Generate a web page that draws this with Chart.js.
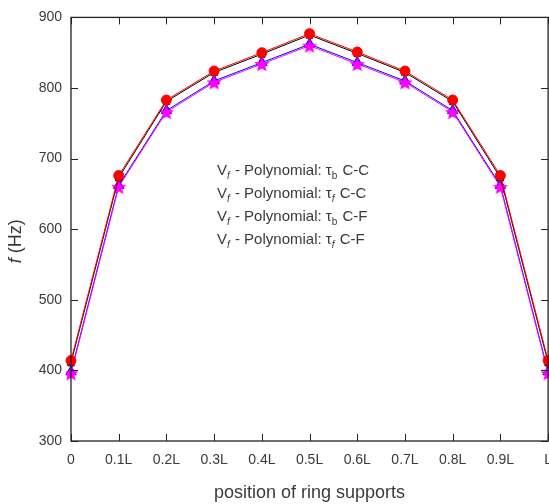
<!DOCTYPE html>
<html>
<head>
<meta charset="utf-8">
<script src="https://cdn.jsdelivr.net/npm/chart.js@4"></script>
<style>
  html, body { margin: 0; padding: 0; overflow: hidden; background: #fff; }
  canvas { display: block; }
</style>
</head>
<body>
<canvas id="freqChart" width="563" height="504"></canvas>
<script>
// positions along the shell
const positions = ['0', '0.1L', '0.2L', '0.3L', '0.4L', '0.5L', '0.6L', '0.7L', '0.8L', '0.9L', 'L'];

// natural frequency f (Hz) for each boundary / thickness case
const tauB_CC = [414, 676, 783, 824, 850, 877, 851, 824, 783, 676, 414];
const tauF_CC = [411, 673, 781, 822, 848, 875, 849, 822, 781, 673, 411];
const tauB_CF = [398, 662, 768, 810, 836, 862, 836, 810, 768, 662, 398];
const tauF_CF = [396, 660, 766, 808, 834, 860, 834, 808, 766, 660, 396];

// legend texts, "_x" = subscript x
const seriesNames = [
    'V_f - Polynomial: τ_b C-C',
    'V_f - Polynomial: τ_f C-C',
    'V_f - Polynomial: τ_b C-F',
    'V_f - Polynomial: τ_f C-F'
];

const yTicks = [300, 400, 500, 600, 700, 800, 900];

const FONT = '"Liberation Sans", Arial, sans-serif';
const TEXT = '#3a3a3a';

// filled five point star for the magenta series
function makeStar(size, color) {
    const c = document.createElement('canvas');
    c.width = size; c.height = size;
    const g = c.getContext('2d');
    const cx = size / 2, cy = size / 2 + 0.8, R = size / 2, r = R * 0.45;
    g.beginPath();
    for (let i = 0; i < 10; i++) {
        const rad = i % 2 === 0 ? R : r;
        const a = -Math.PI / 2 + i * Math.PI / 5;
        const px = cx + rad * Math.cos(a), py = cy + rad * Math.sin(a);
        if (i === 0) g.moveTo(px, py); else g.lineTo(px, py);
    }
    g.closePath();
    g.fillStyle = color;
    g.fill();
    return c;
}

// frame with inward ticks, y title and the text legend
const framePlugin = {
    id: 'frame',
    afterDraw(chart) {
        const ctx = chart.ctx;
        const a = chart.chartArea;
        const xs = chart.scales.x, ys = chart.scales.y;
        ctx.save();
        ctx.strokeStyle = '#222';
        ctx.lineWidth = 1.3;
        ctx.strokeRect(a.left, a.top, a.right - a.left, a.bottom - a.top);
        ctx.beginPath();
        positions.forEach((p, i) => {
            const x = Math.round(xs.getPixelForValue(i)) + 0.5;
            ctx.moveTo(x, a.bottom); ctx.lineTo(x, a.bottom - 7);
            ctx.moveTo(x, a.top); ctx.lineTo(x, a.top + 7);
        });
        yTicks.forEach(v => {
            const y = Math.round(ys.getPixelForValue(v)) + 0.5;
            ctx.moveTo(a.left, y); ctx.lineTo(a.left + 7, y);
            ctx.moveTo(a.right, y); ctx.lineTo(a.right - 7, y);
        });
        ctx.lineWidth = 1;
        ctx.stroke();

        // y title: italic f
        ctx.translate(16, (a.top + a.bottom) / 2 + 12);
        ctx.rotate(-Math.PI / 2);
        ctx.fillStyle = TEXT;
        ctx.textBaseline = 'middle';
        ctx.font = 'italic 18px ' + FONT;
        const w1 = ctx.measureText('f').width;
        ctx.font = '18px ' + FONT;
        const w2 = ctx.measureText(' (Hz)').width;
        let x0 = -(w1 + w2) / 2;
        ctx.font = 'italic 18px ' + FONT;
        ctx.textAlign = 'left';
        ctx.fillText('f', x0, 0);
        ctx.font = '18px ' + FONT;
        ctx.fillText(' (Hz)', x0 + w1, 0);
        ctx.restore();

        // legend
        ctx.save();
        ctx.fillStyle = TEXT;
        ctx.textBaseline = 'alphabetic';
        ctx.textAlign = 'left';
        seriesNames.forEach((name, i) => {
            let x = 217;
            const y = 175 + i * 23;
            const parts = name.split(/(_.)/);
            parts.forEach(part => {
                if (!part) return;
                if (part[0] === '_') {
                    ctx.font = (part[1] === 'f' ? 'italic ' : '') + '10px ' + FONT;
                    ctx.fillText(part[1], x, y + 4);
                    x += ctx.measureText(part[1]).width + 1;
                } else {
                    ctx.font = '15px ' + FONT;
                    ctx.fillText(part, x, y);
                    x += ctx.measureText(part).width;
                }
            });
        });
        ctx.restore();
    }
};

const chart = new Chart(document.getElementById('freqChart'), {
    type: 'line',
    data: {
        labels: positions,
        datasets: [
            {
                label: seriesNames[0], data: tauB_CC,
                borderColor: '#ff0000', backgroundColor: '#ff0000',
                pointStyle: 'circle', pointRadius: 5, borderWidth: 1, order: 1
            },
            {
                label: seriesNames[1], data: tauF_CC,
                borderColor: '#000000', backgroundColor: '#000000',
                pointStyle: 'rect', pointRadius: 4.5, borderWidth: 1, order: 2
            },
            {
                label: seriesNames[2], data: tauB_CF,
                borderColor: '#0000ff', backgroundColor: '#0000ff',
                pointStyle: 'triangle', pointRadius: 6, borderWidth: 1, order: 4
            },
            {
                label: seriesNames[3], data: tauF_CF,
                borderColor: '#ff00ff', backgroundColor: '#ff00ff',
                pointStyle: makeStar(16, '#ff00ff'), borderWidth: 1, order: 3
            }
        ]
    },
    options: {
        responsive: false,
        animation: false,
        layout: { padding: { top: 14, right: 5, left: 0, bottom: 0 } },
        plugins: {
            legend: { display: false },
            tooltip: { enabled: false }
        },
        elements: { line: { tension: 0 } },
        scales: {
            x: {
                type: 'category',
                offset: false,
                grid: { display: false, drawTicks: false },
                border: { display: false },
                ticks: {
                    color: TEXT, font: { family: FONT, size: 14 },
                    padding: 11, maxRotation: 0, autoSkip: false
                },
                title: {
                    display: true, text: 'position of ring supports',
                    color: TEXT, font: { family: FONT, size: 18 },
                    padding: { top: 6, bottom: 0 }
                },
                afterFit: s => { s.height = 63; }
            },
            y: {
                min: 300, max: 900,
                grid: { display: false, drawTicks: false },
                border: { display: false },
                afterBuildTicks: s => { s.ticks = yTicks.map(v => ({ value: v })); },
                ticks: {
                    color: TEXT, font: { family: FONT, size: 14 }, padding: 9
                },
                afterFit: s => { s.width = 71; }
            }
        }
    },
    plugins: [framePlugin]
});
</script>
</body>
</html>
